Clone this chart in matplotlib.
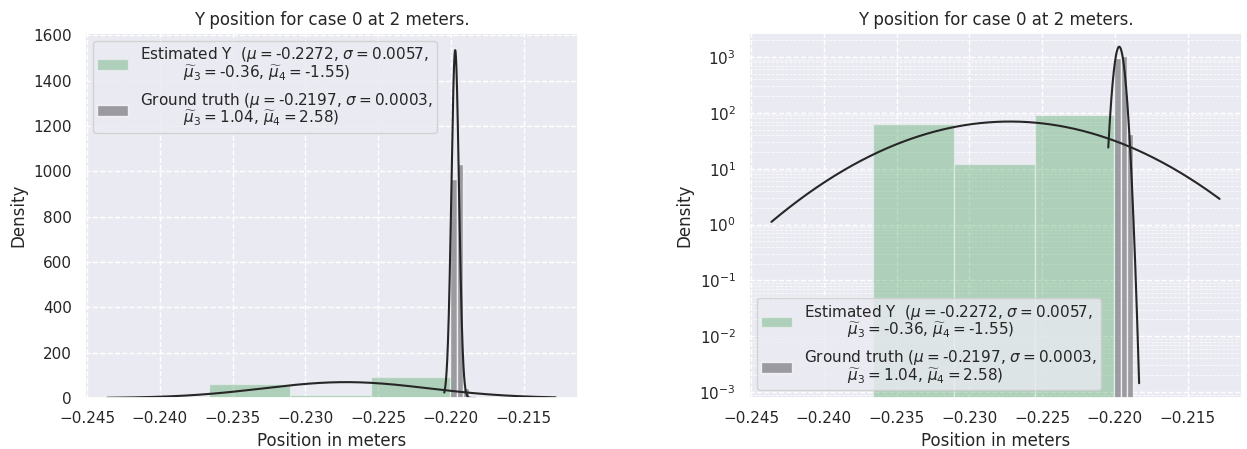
import numpy as np
import matplotlib
matplotlib.use("Agg")
import matplotlib.pyplot as plt
from matplotlib.ticker import NullFormatter
import seaborn as sns

# Estimated Y position histogram (density per bin)
est_edges = [-0.23662, -0.23106, -0.22550, -0.21994]
est_density = [62, 12, 92]
est_mu, est_sigma = -0.2272, 0.0057
est_span = (-0.2436, -0.2128)

# Ground-truth Y position histogram (density per bin)
gt_edges = [-0.22003, -0.21960, -0.21918, -0.21875]
gt_density = [965, 1031, 42]
gt_mu, gt_sigma = -0.2197, 0.00026
gt_span = (-0.22045, -0.21833)

est_label = ("Estimated Y  ($\\mu=$-0.2272, $\\sigma=$0.0057,\n"
             "         $\\widetilde{\\mu}_3=$-0.36, $\\widetilde{\\mu}_4=$-1.55)")
gt_label = ("Ground truth ($\\mu=$-0.2197, $\\sigma=$0.0003,\n"
            "         $\\widetilde{\\mu}_3=$1.04, $\\widetilde{\\mu}_4=$2.58)")

title = "Y position for case 0 at 2 meters."

sns.set_theme(style="darkgrid")
plt.rcParams["font.family"] = ["DejaVu Sans"]

green = "#55a868"
curve_color = "#262626"


def normal_pdf(x, mu, sigma):
    return np.exp(-0.5 * ((x - mu) / sigma) ** 2) / (sigma * np.sqrt(2 * np.pi))


def draw_panel(ax, log):
    ax.bar(est_edges[:-1], est_density, width=np.diff(est_edges), align="edge",
           color=green, alpha=0.4, edgecolor="white", linewidth=1.0,
           label=est_label)
    ax.bar(gt_edges[:-1], gt_density, width=np.diff(gt_edges), align="edge",
           color="#808085", alpha=0.75, edgecolor="white", linewidth=1.0,
           label=gt_label)
    xe = np.linspace(*est_span, 400)
    ax.plot(xe, normal_pdf(xe, est_mu, est_sigma), color=curve_color, lw=1.5)
    xg = np.linspace(*gt_span, 400)
    ax.plot(xg, normal_pdf(xg, gt_mu, gt_sigma), color=curve_color, lw=1.5)
    ax.set_xlim(-0.24514, -0.21126)
    ax.set_xticks([-0.245, -0.240, -0.235, -0.230, -0.225, -0.220, -0.215])
    ax.set_title(title, fontsize=12)
    ax.set_xlabel("Position in meters", fontsize=12)
    ax.set_ylabel("Density", fontsize=12)
    ax.tick_params(labelsize=11)
    ax.grid(True, which="major", color="white", linestyle="--", linewidth=1.0)
    if log:
        ax.set_yscale("log")
        ax.set_ylim(7.8e-4, 2700)
        ax.yaxis.set_minor_formatter(NullFormatter())
        ax.grid(True, which="minor", axis="y", color="white", linestyle="--",
                linewidth=0.6, alpha=0.8)
        leg = ax.legend(loc="lower left", fontsize=11, borderpad=0.3)
    else:
        ax.set_ylim(0, 1610)
        leg = ax.legend(loc="upper left", fontsize=11, borderpad=0.3)
    for t in leg.get_texts():
        t.set_linespacing(0.95)


fig = plt.figure(figsize=(12.47, 4.49), dpi=100)
ax1 = fig.add_axes([85 / 1247, 51 / 449, 493 / 1247, 365 / 449])
ax2 = fig.add_axes([749 / 1247, 51 / 449, 493 / 1247, 365 / 449])
draw_panel(ax1, log=False)
draw_panel(ax2, log=True)

fig.savefig("out.png", dpi=100)
